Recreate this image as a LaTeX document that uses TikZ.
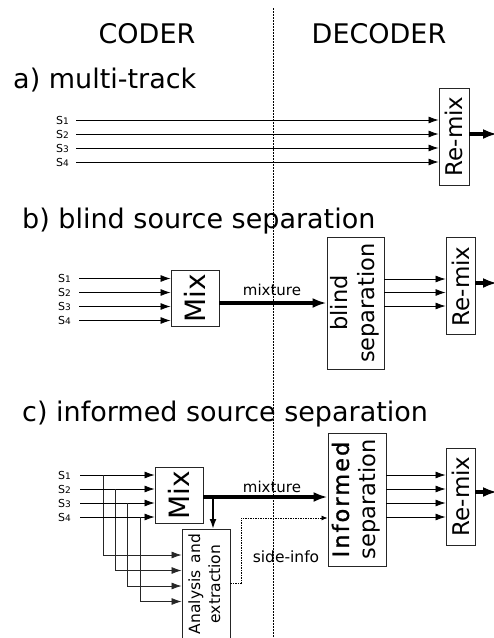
\documentclass[tikz,border=0pt]{standalone}
\usepackage{fontspec}
\setmainfont{DejaVu Sans}
\newfontfamily\semibf[FakeBold=1.2,LetterSpace=9]{DejaVu Sans}
\usetikzlibrary{arrows.meta,calc}
\newcommand\srcl[1]{S{\fontsize{9}{9}\selectfont #1}}
\begin{document}
\begin{tikzpicture}[x=1pt,y=-1pt,
  title/.style={inner sep=0pt,font=\fontsize{27}{32}\selectfont},
  srclabel/.style={inner sep=0pt,anchor=east,font=\fontsize{11}{11}\selectfont},
  box/.style={draw=black!85,line width=0.9pt,inner sep=0pt,align=center},
  thinarr/.style={line width=0.8pt,-{Latex[length=10pt,width=7pt]}},
  thickarr/.style={line width=3.5pt,-{Latex[length=14pt,width=10pt]}},
  midarr/.style={line width=2pt,-{Latex[length=10pt,width=7pt]}},
  sidearr/.style={line width=0.8pt,dash pattern=on 1.5pt off 1pt,-{Latex[length=6pt,width=5pt]}},
  branch/.style={line width=0.8pt,draw=black!85},
  divider/.style={line width=1pt,dash pattern=on 2pt off 1pt},
  lbl/.style={inner sep=0pt,font=\fontsize{15}{18}\selectfont}]
\useasboundingbox (0,0) rectangle (494,638);
% divider and headers
\coordinate (divtop) at (273,8);
\coordinate (divbot) at (273,640);
\draw[divider] (divtop) -- (divbot);
\node[title,anchor=base] (coder) at (147,43) {CODER};
\node[title,anchor=base] (decoder) at (379,43) {DECODER};
% ---------------- a) multi-track
\node[title,anchor=base west] (ta) at (13,88) {a) multi-track};
\node[box,minimum width=30pt,minimum height=97pt] (remixa) at (454,136.5)
  {\rotatebox{90}{\fontsize{23}{26}\selectfont Re-mix}};
\foreach \i/\y in {1/120,2/134,3/148,4/162}{
  \node[srclabel] (sa\i) at (69,\y) {\srcl{\i}};
  \draw[thinarr,shorten <=7pt] (sa\i.east) -- (sa\i.east -| remixa.west);
}
\coordinate (outa) at (497,134);
\draw[thickarr] (remixa.east |- outa) -- (outa);
% ---------------- b) blind source separation
\node[title,anchor=base west] (tb) at (22,228) {b) blind source separation};
\node[box,minimum width=48pt,minimum height=56pt] (mixb) at (195,298)
  {\rotatebox{90}{\fontsize{28}{32}\selectfont Mix}};
\node[box,minimum width=57pt,minimum height=132pt] (blindb) at (355.5,303)
  {\rotatebox{90}{\fontsize{22.5}{27}\selectfont\begin{tabular}{@{}c@{}}blind\\separation\end{tabular}}};
\node[box,minimum width=29pt,minimum height=97pt] (remixb) at (460.5,286.4)
  {\rotatebox{90}{\fontsize{23}{26}\selectfont Re-mix}};
\foreach \i/\y in {1/278.5,2/292.5,3/306.5,4/320.5}{
  \node[srclabel] (sb\i) at (71,\y) {\srcl{\i}};
  \draw[thinarr,shorten <=8pt] (sb\i.east) -- (sb\i.east -| mixb.west);
}
\draw[thickarr] (mixb.east |- blindb.west) -- (blindb.west);
\node[lbl,anchor=base] (mixlb) at (272,295) {mixture};
\foreach \y in {279,292.5,306}{
  \coordinate (ob) at (blindb.east |- 0,\y);
  \draw[thinarr] (ob) -- (ob -| remixb.west);
}
\coordinate (outb) at (497,283);
\draw[thickarr] (remixb.east |- outb) -- (outb);
% ---------------- c) informed source separation
\node[title,anchor=base west] (tc) at (22,421.5) {c) informed source separation};
\node[box,minimum width=48pt,minimum height=56pt] (mixc) at (179,495)
  {\rotatebox{90}{\fontsize{28}{32}\selectfont Mix}};
\node[box,minimum width=58pt,minimum height=133pt] (infc) at (357,499.5)
  {\rotatebox{90}{\fontsize{22.5}{27}\selectfont\begin{tabular}{@{}c@{}}{\semibf Informed}\\separation\end{tabular}}};
\node[box,minimum width=29pt,minimum height=97pt] (remixc) at (460.5,496.5)
  {\rotatebox{90}{\fontsize{23}{26}\selectfont Re-mix}};
\node[box,minimum width=48pt,minimum height=112pt,anchor=north] (anc) at (206,529) {};
\node[inner sep=0pt] (anctext) at (206,584)
  {\rotatebox{90}{\fontsize{15.5}{20}\selectfont\begin{tabular}{@{}c@{}}Analysis\hspace{0.45em}and\\extraction\end{tabular}}};
\foreach \i/\y/\bx/\by in {1/475/103/555,2/489/115/570.5,3/503/127/586,4/517/140/601.5}{
  \node[srclabel] (sc\i) at (71,\y) {\srcl{\i}};
  \draw[thinarr,shorten <=9pt] (sc\i.east) -- (sc\i.east -| mixc.west);
  \coordinate (j\i) at (\bx,\y);
  \draw[branch] (j\i) -- (\bx,\by);
  \draw[thinarr,draw=black!85] (\bx,\by) -- (anc.west |- 0,\by);
}
\coordinate (mixcout) at (mixc.east |- 0,497);
\draw[thickarr] (mixcout) -- (infc.west |- mixcout);
\node[lbl,anchor=base] (mixlc) at (272,492) {mixture};
\coordinate (br) at (213,497);
\draw[midarr] (br) -- (br |- anc.north);
\coordinate (sidea) at (anc.east |- 0,583);
\coordinate (sideb) at (241,583);
\coordinate (sidec) at (241,518);
\draw[sidearr] (sidea) -- (sideb) -- (sidec) -- (infc.west |- sidec);
\node[lbl,anchor=base,font=\fontsize{15.5}{18}\selectfont] (sidel) at (286,562.5) {side-info};
\foreach \y in {475,489,503,517}{
  \coordinate (oc) at (infc.east |- 0,\y);
  \draw[thinarr] (oc) -- (oc -| remixc.west);
}
\coordinate (outc) at (497,492);
\draw[thickarr] (remixc.east |- outc) -- (outc);
\end{tikzpicture}
\end{document}
